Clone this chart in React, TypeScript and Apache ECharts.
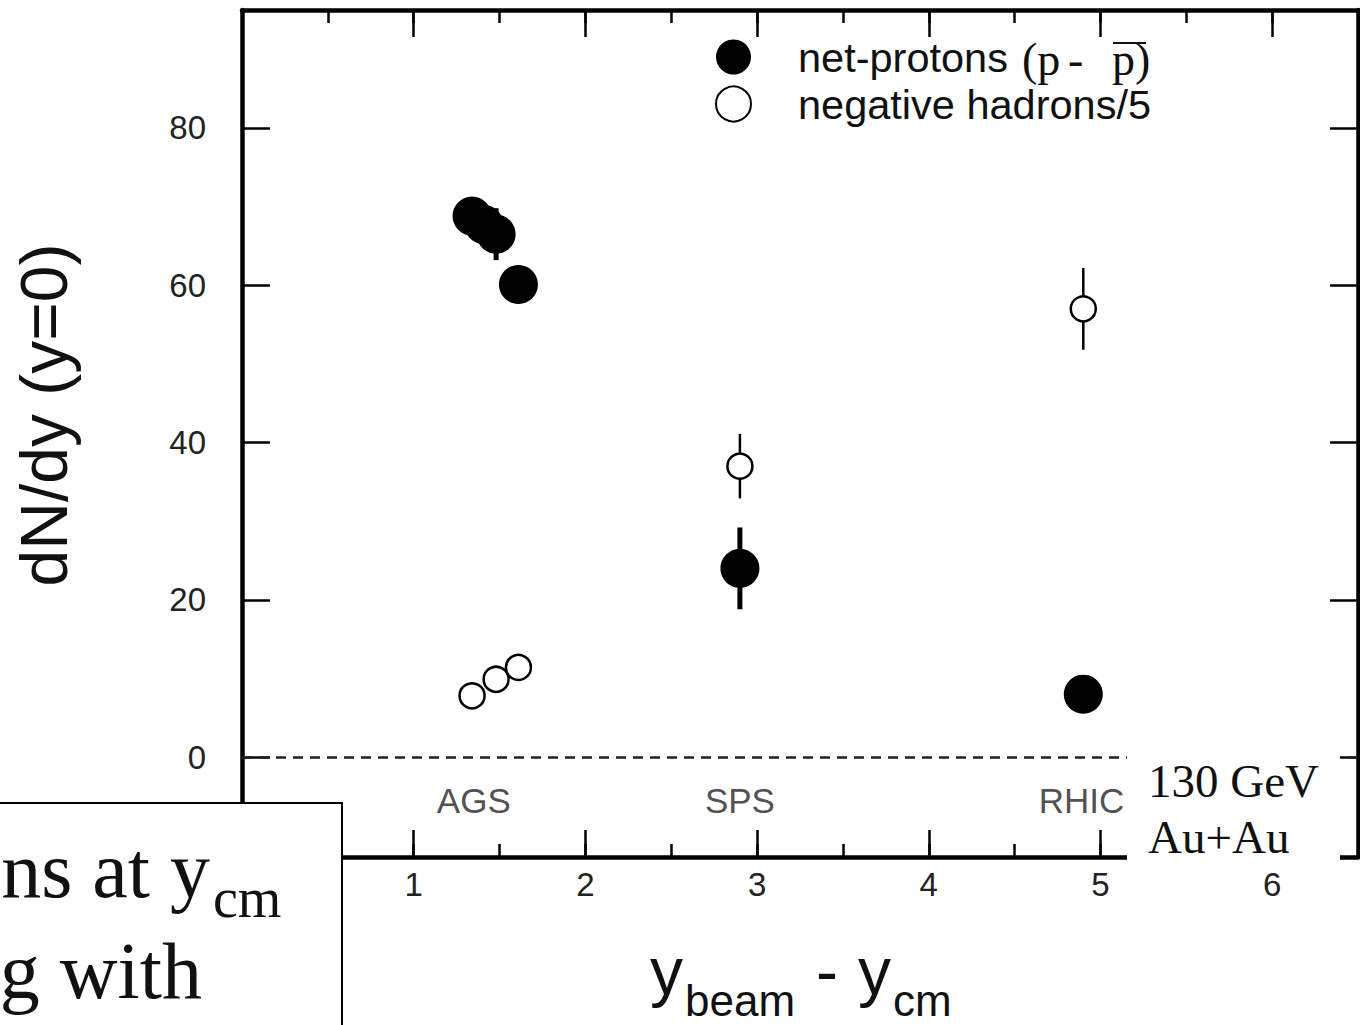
import React, { useEffect, useRef } from "react";
import * as echarts from "echarts";

// ---- data ----
const netProtonX = [1.34, 1.41, 1.48, 1.61, 2.9, 4.9];
const netProtonY = [68.8, 67.7, 66.5, 60.1, 24.0, 8.0];
const netProtonErr = [2.0, 2.0, 3.3, 2.0, 5.2, 1.5];

const negHadronX = [1.34, 1.48, 1.61, 2.9, 4.9];
const negHadronY = [7.8, 9.9, 11.4, 37.0, 57.0];
const negHadronErr = [0.8, 0.8, 0.8, 4.1, 5.2];

const facilityNames = ["AGS", "SPS", "RHIC"];
const facilityX = [1.35, 2.9, 4.89];
const facilityY = [-5.5, -5.5, -5.5];

const xTickLabels = [1, 2, 3, 4, 5, 6];
const yTickValues = [0, 20, 40, 60, 80];

const X_MIN = 0;
const X_MAX = 6.5;
const Y_MIN = -12.7;
const Y_MAX = 95;

const SANS = "'Liberation Sans', Arial, sans-serif";
const SERIF = "'Liberation Serif', 'Times New Roman', serif";

function txt(text: string, x: number, y: number, size: number, family: string, align: string = "left", extra: any = {}) {
  return {
    type: "text",
    z: 101,
    x,
    y,
    ...extra,
    style: {
      text,
      fontSize: size,
      fontFamily: family,
      fill: "#111",
      align,
      verticalAlign: "middle",
      textAlign: align,
      textVerticalAlign: "middle",
    },
  };
}

function errorSeries(name: string, xs: number[], ys: number[], es: number[], width: number) {
  return {
    type: "custom",
    name,
    silent: true,
    z: 2,
    xAxisIndex: 0,
    yAxisIndex: 0,
    encode: { x: 0, y: [1, 2] },
    data: xs.map((x, i) => [x, ys[i] - es[i], ys[i] + es[i]]),
    renderItem: (_params: any, api: any) => {
      const a = api.coord([api.value(0), api.value(1)]);
      const b = api.coord([api.value(0), api.value(2)]);
      return {
        type: "line",
        shape: { x1: a[0], y1: a[1], x2: b[0], y2: b[1] },
        style: { stroke: "#000", lineWidth: width },
      };
    },
  };
}

function xAxisDef(position: string, major: boolean, showLabel: boolean) {
  return {
    type: "value",
    position,
    min: X_MIN,
    max: X_MAX,
    interval: major ? 1 : 0.5,
    axisLine: { show: major, onZero: false, lineStyle: { color: "#000", width: 4.5 } },
    axisTick: { show: true, inside: true, length: major ? 27 : 13, lineStyle: { color: "#000", width: 2.5 } },
    axisLabel: {
      show: showLabel,
      fontSize: 33,
      fontFamily: SANS,
      color: "#222",
      margin: 11,
      formatter: (v: number) => (xTickLabels.indexOf(v) >= 0 ? String(v) : ""),
    },
    splitLine: { show: false },
  };
}

function yAxisDef(position: string, showLabel: boolean) {
  return {
    type: "value",
    position,
    min: Y_MIN,
    max: Y_MAX,
    axisLine: { show: true, onZero: false, lineStyle: { color: "#000", width: 4.5 } },
    axisTick: { show: true, inside: true, length: 28, customValues: yTickValues, lineStyle: { color: "#000", width: 2.5 } },
    axisLabel: {
      show: showLabel,
      customValues: yTickValues,
      fontSize: 33,
      fontFamily: SANS,
      color: "#222",
      margin: 36,
    },
    splitLine: { show: false },
  };
}

export default function App() {
  const ref = useRef<HTMLDivElement>(null);

  useEffect(() => {
    document.body.style.margin = "0";
    if (!ref.current) return;
    const chart = echarts.init(ref.current, null, { renderer: "svg" });

    const option: any = {
      animation: false,
      backgroundColor: "#fff",
      grid: { left: 242, top: 10, width: 1116, height: 847, containLabel: false, outerBoundsMode: "none" },
      xAxis: [
        xAxisDef("bottom", true, true),
        xAxisDef("top", true, false),
        xAxisDef("bottom", false, false),
        xAxisDef("top", false, false),
      ],
      yAxis: [yAxisDef("left", true), yAxisDef("right", false)],
      legend: {
        orient: "vertical",
        left: 715,
        top: 36,
        padding: 0,
        itemWidth: 35,
        itemHeight: 35,
        itemGap: 5,
        selectedMode: false,
        data: [{ name: "net-protons" }, { name: "negative hadrons/5" }],
        textStyle: { fontSize: 41.5, fontFamily: SANS, color: "#111", padding: [0, 0, 0, 42] },
      },
      series: [
        errorSeries("np-err", netProtonX, netProtonY, netProtonErr, 5),
        errorSeries("nh-err", negHadronX, negHadronY, negHadronErr, 2.5),
        {
          type: "scatter",
          name: "net-protons",
          z: 3,
          symbol: "circle",
          symbolSize: 39,
          itemStyle: { color: "#000", opacity: 1 },
          data: netProtonX.map((x, i) => [x, netProtonY[i]]),
          markLine: {
            silent: true,
            symbol: ["none", "none"],
            label: { show: false },
            lineStyle: { type: [10, 7], width: 2.5, color: "#222" },
            data: [{ yAxis: 0 }],
          },
        },
        {
          type: "scatter",
          name: "negative hadrons/5",
          z: 3,
          symbol: "circle",
          symbolSize: 25,
          itemStyle: { color: "#fff", borderColor: "#000", borderWidth: 2.5, opacity: 1 },
          data: negHadronX.map((x, i) => [x, negHadronY[i]]),
        },
        {
          type: "scatter",
          name: "facilities",
          silent: true,
          z: 3,
          symbol: "circle",
          symbolSize: 1,
          itemStyle: { color: "rgba(0,0,0,0)" },
          label: {
            show: true,
            position: "inside",
            formatter: (p: any) => p.value[2],
            fontSize: 35,
            fontFamily: SANS,
            color: "#222",
          },
          data: facilityX.map((x, i) => [x, facilityY[i], facilityNames[i]]),
        },
      ],
      graphic: {
        elements: [
          // y-axis title
          txt("dN/dy (y=0)", 44, 415, 66, SANS, "center", { rotation: Math.PI / 2 }),
          // x-axis title
          txt("y", 650, 971, 66, SANS),
          txt("beam", 685, 1000, 44, SANS),
          txt("-", 816, 971, 66, SANS),
          txt("y", 858, 971, 66, SANS),
          txt("cm", 893, 1000, 44, SANS),
          // legend formula (p - p̄)
          txt("(p", 1022, 59, 46, SERIF),
          txt("-", 1068, 59, 46, SERIF),
          txt("p)", 1112, 59, 46, SERIF),
          {
            type: "line",
            z: 101,
            shape: { x1: 1113, y1: 43, x2: 1146, y2: 43 },
            style: { stroke: "#111", lineWidth: 2 },
          },
          // RHIC energy box
          {
            type: "rect",
            z: 100,
            shape: { x: 1127, y: 745, width: 213, height: 125 },
            style: { fill: "#fff", stroke: null },
          },
          txt("130 GeV", 1148, 781, 47, SERIF),
          txt("Au+Au", 1148, 837, 47, SERIF),
          // bottom-left text box
          {
            type: "rect",
            z: 100,
            shape: { x: -10, y: 803, width: 352, height: 240 },
            style: { fill: "#fff", stroke: "#000", lineWidth: 2 },
          },
          txt("ns at y", 210, 870, 80, SERIF, "right"),
          txt("cm", 213, 898, 56, SERIF),
          txt("g with", 202, 971, 80, SERIF, "right"),
        ],
      },
    };

    chart.setOption(option);
    return () => chart.dispose();
  }, []);

  return <div ref={ref} style={{ width: 1360, height: 1025 }} />;
}
